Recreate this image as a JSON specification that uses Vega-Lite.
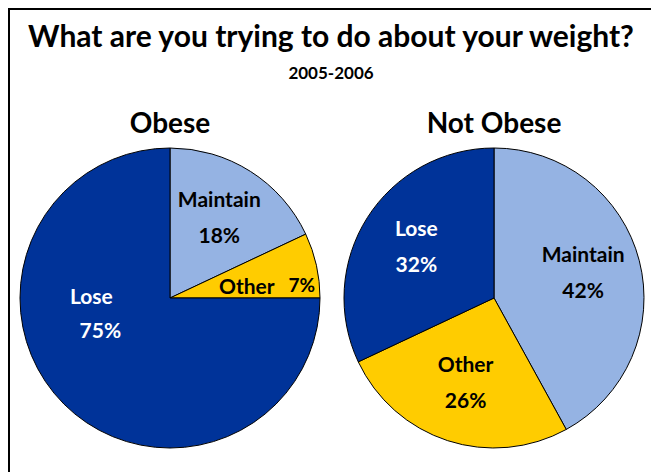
{
  "$schema": "https://vega.github.io/schema/vega-lite/v6.json",
  "autosize": "none",
  "padding": {"left": 9, "top": 9, "right": 0, "bottom": 0},
  "width": 660,
  "height": 578,
  "background": "white",
  "config": {
    "view": {"stroke": "black", "strokeWidth": 2},
    "font": "Lato"
  },
  "title": {
    "text": "What are you trying to do about your weight?",
    "subtitle": "2005-2006",
    "anchor": "middle",
    "frame": "group",
    "font": "Lato",
    "fontSize": 30,
    "fontWeight": "bold",
    "color": "black",
    "subtitleFont": "Lato",
    "subtitleFontSize": 17,
    "subtitleFontWeight": "bold",
    "subtitleColor": "black",
    "subtitlePadding": 13,
    "dx": -8,
    "dy": 77
  },
  "data": {
    "values": [
      {"group": "Obese", "category": "Maintain", "order": 1, "value": 18},
      {"group": "Obese", "category": "Other", "order": 2, "value": 7},
      {"group": "Obese", "category": "Lose", "order": 3, "value": 75},
      {"group": "Not Obese", "category": "Maintain", "order": 1, "value": 42},
      {"group": "Not Obese", "category": "Other", "order": 2, "value": 26},
      {"group": "Not Obese", "category": "Lose", "order": 3, "value": 32}
    ]
  },
  "transform": [
    {"stack": "value", "groupby": ["group"], "sort": [{"field": "order"}], "as": ["v0", "v1"]},
    {"calculate": "(datum.v0 + datum.v1) / 2", "as": "mid"},
    {"calculate": "datum.value + '%'", "as": "pct"},
    {"calculate": "datum.group === 'Obese' && (datum.category === 'Lose' || datum.category === 'Other')", "as": "special"}
  ],
  "encoding": {
    "x": {"field": "group", "type": "nominal", "scale": {"type": "point", "domain": ["Obese", "Not Obese"], "range": [161, 485], "padding": 0}, "axis": null}
  },
  "layer": [
    {
      "mark": {"type": "arc", "radius": 150, "stroke": "black", "strokeWidth": 1},
      "encoding": {
        "theta": {"field": "v0", "type": "quantitative", "scale": {"domain": [0, 100], "range": [0, 6.283185307179586]}},
        "theta2": {"field": "v1"},
        "color": {"field": "category", "type": "nominal", "scale": {"domain": ["Lose", "Maintain", "Other"], "range": ["#003399", "#95B3E3", "#FFCC00"]}, "legend": null}
      }
    },
    {
      "transform": [{"filter": "!datum.special"}],
      "mark": {"type": "text", "radius": 92, "dy": -19, "fontSize": 21, "fontWeight": "bold", "font": "Lato"},
      "encoding": {
        "theta": {"field": "mid", "type": "quantitative"},
        "text": {"field": "category"},
        "color": {"condition": {"test": "datum.category === 'Lose'", "value": "white"}, "value": "black"}
      }
    },
    {
      "transform": [{"filter": "!datum.special"}],
      "mark": {"type": "text", "radius": 92, "dy": 17, "fontSize": 21, "fontWeight": "bold", "font": "Lato"},
      "encoding": {
        "theta": {"field": "mid", "type": "quantitative"},
        "text": {"field": "pct"},
        "color": {"condition": {"test": "datum.category === 'Lose'", "value": "white"}, "value": "black"}
      }
    },
    {
      "transform": [{"filter": "datum.special && datum.category === 'Lose'"}],
      "mark": {"type": "text", "radius": 90, "dx": -15, "dy": -64, "fontSize": 21, "fontWeight": "bold", "font": "Lato", "color": "white"},
      "encoding": {
        "theta": {"field": "mid", "type": "quantitative"},
        "text": {"field": "category"}
      }
    },
    {
      "transform": [{"filter": "datum.special && datum.category === 'Lose'"}],
      "mark": {"type": "text", "radius": 90, "dx": -6, "dy": -30, "fontSize": 21, "fontWeight": "bold", "font": "Lato", "color": "white"},
      "encoding": {
        "theta": {"field": "mid", "type": "quantitative"},
        "text": {"field": "pct"}
      }
    },
    {
      "transform": [{"filter": "datum.special && datum.category === 'Other'"}],
      "mark": {"type": "text", "radius": 90, "dx": -11, "dy": 10, "fontSize": 21, "fontWeight": "bold", "font": "Lato", "color": "black"},
      "encoding": {
        "theta": {"field": "mid", "type": "quantitative"},
        "text": {"field": "category"}
      }
    },
    {
      "transform": [{"filter": "datum.special && datum.category === 'Other'"}],
      "mark": {"type": "text", "radius": 90, "dx": 44, "dy": 8, "fontSize": 19, "fontWeight": "bold", "font": "Lato", "color": "black"},
      "encoding": {
        "theta": {"field": "mid", "type": "quantitative"},
        "text": {"field": "pct"}
      }
    },
    {
      "data": {"values": [{"group": "Obese"}, {"group": "Not Obese"}]},
      "transform": [],
      "mark": {"type": "text", "radius": 165, "theta": 0, "baseline": "alphabetic", "fontSize": 28, "fontWeight": "bold", "font": "Lato", "color": "black"},
      "encoding": {
        "text": {"field": "group"}
      }
    }
  ]
}
